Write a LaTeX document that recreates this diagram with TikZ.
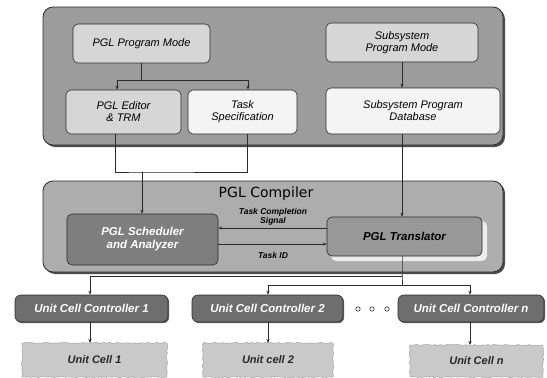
\documentclass[tikz,border=0pt]{standalone}
\usepackage{fontspec}
\setmainfont{Liberation Sans}
\newfontfamily\titlefont{DejaVu Sans}
\usetikzlibrary{arrows.meta,shadows,decorations.pathmorphing}
\definecolor{topfill}{HTML}{9C9C9C}
\definecolor{compfill}{HTML}{ADADAD}
\definecolor{litefill}{HTML}{D6D6D6}
\definecolor{whitefill}{HTML}{F4F4F4}
\definecolor{schfill}{HTML}{7E7E7E}
\definecolor{trfill}{HTML}{989898}
\definecolor{ctrlfill}{HTML}{6E6E6E}
\definecolor{cellfill}{HTML}{C9C9C9}
\definecolor{linecol}{HTML}{2A2A2A}
\tikzset{
  outerbox/.style={draw=linecol, line width=0.8pt, rounded corners=10pt, inner sep=0pt,
    drop shadow={shadow xshift=2pt, shadow yshift=-2pt, fill=black!70, opacity=1}},
  inbox/.style={draw=linecol, line width=0.6pt, rounded corners=5pt, align=center,
    inner sep=1pt, font=\itshape\fontsize{11}{12}\selectfont},
  darkbox/.style={inbox, fill=schfill, text=white, font=\bfseries\itshape\fontsize{11.5}{13}\selectfont},
  ctrlbox/.style={inbox, fill=ctrlfill, text=white, rounded corners=6pt,
    font=\bfseries\itshape\fontsize{11.5}{12}\selectfont,
    drop shadow={shadow xshift=1.2pt, shadow yshift=-1.2pt, fill=black!60, opacity=1}},
  cellbox/.style={fill=cellfill, draw=gray!70, line width=0.5pt,
    decorate, decoration={random steps, segment length=2pt, amplitude=0.7pt}},
  celltext/.style={font=\bfseries\itshape\fontsize{11}{12}\selectfont, text=black!85},
  arr/.style={draw=linecol, line width=0.6pt, -{Stealth[length=4pt,width=3.2pt]}},
  ln/.style={draw=linecol, line width=0.6pt},
  lbl/.style={font=\bfseries\itshape\fontsize{8.5}{9}\selectfont, align=center, inner sep=0.5pt}
}
\begin{document}
\begin{tikzpicture}[x=1pt, y=-1pt]
\useasboundingbox (0,0) rectangle (547,378);
\fill[white] (0,0) rectangle (547,378);

% top group
\node[outerbox, fill=topfill, minimum width=460pt, minimum height=138pt] (top) at (273,76) {};
\node[inbox, fill=litefill, minimum width=137pt, minimum height=39pt] (pm) at (141.5,43.5) {PGL Program Mode};
\node[inbox, fill=litefill, minimum width=152pt, minimum height=39pt] (sm) at (402,42.5) {Subsystem\\Program Mode};
\node[inbox, fill=litefill, minimum width=115pt, minimum height=44pt] (ed) at (123.5,112) {PGL Editor\\\& TRM};
\node[inbox, fill=whitefill, minimum width=109pt, minimum height=44pt] (ts) at (242.5,112) {Task\\Specification};
\node[inbox, fill=whitefill, minimum width=174pt, minimum height=46pt] (db) at (413,111) {Subsystem Program\\Database};

% compiler group
\node[outerbox, fill=compfill, minimum width=460pt, minimum height=91pt] (comp) at (273,226.5) {};
\node[font=\titlefont\fontsize{14}{15}\selectfont, inner sep=0pt] (ctitle) at (266,194) {PGL Compiler};
\node[darkbox, minimum width=151pt, minimum height=51pt] (sch) at (142.5,239.5) {PGL Scheduler\\and Analyzer};
\fill[white!85!gray, rounded corners=5pt] (331,221) rectangle (487,261);
\node[inbox, fill=trfill, minimum width=155pt, minimum height=39pt, font=\bfseries\itshape\fontsize{11.5}{12}\selectfont] (tr) at (404.5,236.5) {PGL Translator};

% controllers
\node[ctrlbox, minimum width=153pt, minimum height=27pt] (c1) at (91.5,308.5) {Unit Cell Controller 1};
\node[ctrlbox, minimum width=151pt, minimum height=27pt] (c2) at (267.5,308.5) {Unit Cell Controller 2};
\node[ctrlbox, minimum width=146pt, minimum height=27pt] (cn) at (471,308.5) {Unit Cell Controller \textit{n}};
\foreach \i/\xx in {d1/358, d2/372, d3/387}
  \draw[linecol, line width=0.6pt] (\xx,309) circle (2.2pt);

% unit cells
\draw[cellbox] (22,343) rectangle (167,377);
\node[celltext] (u1) at (94.5,360) {Unit Cell 1};
\draw[cellbox] (203,343) rectangle (333,377);
\node[celltext] (u2) at (268,360) {Unit cell 2};
\draw[cellbox] (410,345) rectangle (543,377);
\node[celltext] (un) at (476.5,361) {Unit Cell \textit{n}};
\coordinate (u1t) at (90,343);
\coordinate (u2t) at (268,343);
\coordinate (unt) at (470,345);

% connectors in top group
\coordinate (j1) at (141.5,80);
\draw[ln] (pm.south) -- (j1);
\draw[arr] (j1) -| ([xshift=-6.5pt]ed.north);
\draw[arr] (j1) -| ([xshift=5.5pt]ts.north);
\draw[arr] (sm.south) -- (sm.south |- db.north);

% to compiler
\coordinate (j2) at (142,172);
\draw[ln] ([xshift=-8.5pt]ed.south) |- (j2) -| ([xshift=4.5pt]ts.south);
\draw[arr] (j2) -- (j2 |- sch.north);
\draw[arr] ([xshift=-11pt]db.south) -- ([xshift=-11pt]db.south |- tr.north);

% inside compiler
\draw[arr] ([yshift=8.5pt]tr.west) -- ([yshift=8.5pt]tr.west -| sch.east);
\draw[arr] ([yshift=-7.5pt]tr.west -| sch.east) -- ([yshift=-7.5pt]tr.west);
\node[lbl] (l1) at (273,216.5) {Task Completion\\Signal};
\node[lbl] (l2) at (273,255) {Task ID};

% to controllers
\coordinate (j3) at (402,276);
\coordinate (j4) at (402,285);
\draw[ln] ([xshift=-2.5pt]tr.south) -- (j3) -- (j4);
\draw[arr] (j3) -| ([xshift=-1.5pt]c1.north);
\draw[arr] (j4) -| ([xshift=0.5pt]c2.north);
\draw[arr] (j4) -| ([xshift=-1pt]cn.north);

% to cells
\draw[arr] ([xshift=-1.5pt]c1.south) -- (u1t);
\draw[arr] ([xshift=0.5pt]c2.south) -- (u2t);
\draw[arr] ([xshift=-1pt]cn.south) -- (unt);
\end{tikzpicture}
\end{document}
